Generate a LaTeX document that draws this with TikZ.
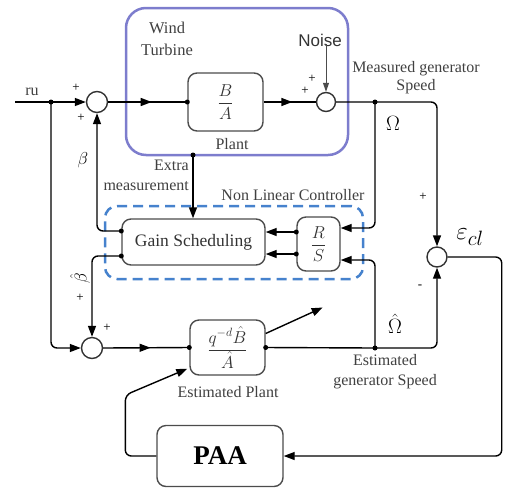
\documentclass[tikz,border=0pt]{standalone}
\usepackage{fontspec}
\setmainfont{Liberation Serif}
\newfontfamily\ruidofont{Liberation Sans}
\usetikzlibrary{positioning,arrows.meta,decorations.markings,calc}
\definecolor{turbinaazul}{RGB}{125,125,205}
\definecolor{nlcazul}{RGB}{70,130,205}
\tikzstyle{Turbina}=[rectangle, rounded corners=20pt, draw=turbinaazul, line width=2.5pt, minimum width=222pt, minimum height=147pt]
\tikzstyle{Controlador}=[rectangle, rounded corners=12pt, draw=nlcazul, line width=2.5pt, dash pattern=on 10pt off 6pt, minimum width=258pt, minimum height=73pt]
\tikzstyle{Bloque}=[rectangle, rounded corners=9pt, draw=black!70, fill=white, line width=1.4pt, font=\fontsize{17.5}{19}\selectfont, text=black!80]
\tikzstyle{Suma}=[circle, draw=black!80, fill=white, line width=1.4pt, minimum size=21pt, inner sep=0pt]
\tikzstyle{Punto}=[circle, fill=black, inner sep=0pt, minimum size=5pt]
\tikzstyle{Etiqueta}=[font=\fontsize{16}{20}\selectfont, text=black!75, inner sep=0pt]
\tikzstyle{Signo}=[font=\fontsize{13}{15}\selectfont, inner sep=0pt]
\tikzstyle{Flecha}=[-{Triangle[length=11pt,width=8pt]}, line width=1.4pt]
\tikzstyle{FlechaMedia}=[line width=1.4pt, decoration={markings, mark=at position 0.55 with {\arrow{Triangle[length=11pt,width=8pt]}}}, postaction={decorate}]

\begin{document}
\begin{tikzpicture}[x=1pt,y=-1pt]
	\useasboundingbox (0,0) rectangle (505,488);
	%Cajas
	\node[Turbina]		(turbine)	at (237,81.5)	{};
	\node[Controlador]	(nlc)		at (234,242.5)	{};

	%Nodos
	\node[Suma]	(sumA)	at (97,102)	{};
	\node[Suma, minimum size=19pt]	(sumB)	at (326,102)	{};
	\node[Suma, minimum size=20pt]	(sumC)	at (437,257)	{};
	\node[Suma]	(sumD)	at (92,348)	{};

	\node[Bloque, minimum width=75pt, minimum height=58pt]	(plant)	at (225.5,102)	{$\displaystyle\frac{B}{A}$};
	\node[Bloque, minimum width=143pt, minimum height=46pt]	(GS)	at (193.5,242)	{Gain Scheduling};
	\node[Bloque, minimum width=43pt, minimum height=54pt]	(RS)	at (318.5,244)	{$\displaystyle\frac{R}{S}$};
	\node[Bloque, minimum width=75pt, minimum height=55pt]	(EP)	at (227.5,347.5)	{$\displaystyle\frac{q^{-d}\hat{B}}{\hat{A}}$};
	\node[Bloque, minimum width=126pt, minimum height=61pt, font=\fontsize{27}{29}\selectfont\bfseries, text=black]	(PAA)	at (220,456)	{PAA};

	%Puntos
	\node[Punto]	(rudot)		at (51,102)	{};
	\node[Punto]	(plantdot)	at (plant.west)	{};
	\node[Punto]	(mgsdot)	at (375,102)	{};
	\node[Punto]	(extradot)	at (193,155)	{};
	\node[Punto]	(gsdotA)	at ($(GS.west)+(0,-11)$)	{};
	\node[Punto]	(gsdotB)	at ($(GS.west)+(0,14)$)	{};
	\node[Punto]	(rsoutA)	at ($(RS.west)+(0,-12)$)	{};
	\node[Punto]	(rsoutB)	at ($(RS.west)+(0,10)$)	{};
	\node[Punto]	(epindot)	at (EP.west)	{};
	\node[Punto]	(epoutdot)	at (EP.east)	{};
	\node[Punto]	(ohdot)		at (375,348)	{};
	\coordinate	(start)	at (15,102);
	\coordinate	(rsinA)	at ($(RS.east)+(0,-16)$);
	\coordinate	(rsinB)	at ($(RS.east)+(0,16)$);

	%Etiquetas
	\node[Etiqueta]	(ru)	at (32,92)	{ru};
	\node[Etiqueta, align=center, font=\fontsize{16.5}{22}\selectfont]	(wind)	at (167,39)	{Wind\\Turbine};
	\node[Etiqueta]	(plantlbl)	at (232,144)	{Plant};
	\node[Etiqueta, font=\fontsize{17}{19}\ruidofont, text=black!80]	(noise)	at (320,40)	{Noise};
	\node[Etiqueta, align=center, font=\fontsize{16}{18}\selectfont]	(mgslbl)	at (416,78)	{Measured generator\\Speed};
	\node[Etiqueta, align=right, anchor=east]	(extralbl)	at (189,175)	{Extra\\measurement};
	\node[Etiqueta]	(nlclbl)	at (293,195)	{Non Linear Controller};
	\node[Etiqueta, font=\fontsize{20}{22}\selectfont, text=black]	(omega)	at (393,123)	{$\Omega$};
	\node[Etiqueta, font=\fontsize{20}{22}\selectfont, text=black]	(omegahat)	at (395,324)	{$\hat{\Omega}$};
	\node[Etiqueta, align=center]	(eglbl)	at (385,372)	{Estimated\\generator Speed};
	\node[Etiqueta]	(eplbl)	at (228,392)	{Estimated Plant};
	\node[Etiqueta, font=\fontsize{28}{30}\selectfont, text=black]	(eps)	at (470,237)	{$\varepsilon_{cl}$};
	\node[Etiqueta, font=\fontsize{19}{21}\selectfont, text=black]	(beta)	at (83,160)	{$\beta$};
	\node[Etiqueta, font=\fontsize{19}{21}\selectfont, text=black, rotate=90]	(betahat)	at (80,278)	{$\hat{\beta}$};

	\node[Signo]	(pA1)	at (76,88)	{+};
	\node[Signo]	(pA2)	at (81,118)	{+};
	\node[Signo]	(pB1)	at (312,79)	{+};
	\node[Signo]	(pB2)	at (305,91)	{+};
	\node[Signo]	(pC1)	at (423,197)	{+};
	\node[Signo]	(pC2)	at (420,287)	{-};
	\node[Signo]	(pD1)	at (107,328)	{+};
	\node[Signo]	(pD2)	at (80,298)	{+};

	%Lineas
	\draw[Flecha] (start) -- (sumA.west);
	\draw[FlechaMedia] (sumA.east) -- (plantdot.center);
	\draw[FlechaMedia] (plant.east) -- (sumB.west);
	\draw[-{Triangle[length=9pt,width=6pt]}, line width=1pt, draw=black!70] (noise.south) ++(6,-2) -- (sumB.north);
	\draw[Flecha, rounded corners=6pt] (sumB.east) -- (mgsdot.center) -| (sumC.north);
	\draw[Flecha, rounded corners=6pt] (mgsdot.center) |- (rsinA);
	\draw[Flecha, rounded corners=6pt] (ohdot.center) |- (rsinB);
	\draw[Flecha] (rsoutA.center) -- (rsoutA.center -| GS.east);
	\draw[Flecha] (rsoutB.center) -- (rsoutB.center -| GS.east);
	\draw[Flecha] (extradot.center) -- (extradot.center |- GS.north);
	\draw[Flecha, rounded corners=6pt] (gsdotA.center) -| (sumA.south);
	\draw[Flecha, rounded corners=6pt] (gsdotB.center) -| (sumD.north);
	\draw[Flecha, rounded corners=6pt] (rudot.center) |- (sumD.west);
	\draw[FlechaMedia] (sumD.east) -- (epindot.center);
	\draw[line width=1.4pt] (epoutdot.center) -- (ohdot.center);
	\draw[Flecha, rounded corners=6pt] (ohdot.center) -| (sumC.south);
	\draw[Flecha] ($(EP.east)+(0,-14)$) -- ++(57,-26);
	\draw[Flecha, rounded corners=6pt] (sumC.east) -- ++(54,0) |- (PAA.east);
	\draw[Flecha, rounded corners=6pt] (PAA.west) -- ++(-31,0) -- ++(0,-61) -- ($(EP.south west)+(-2,-7)$);

\end{tikzpicture}
\end{document}
